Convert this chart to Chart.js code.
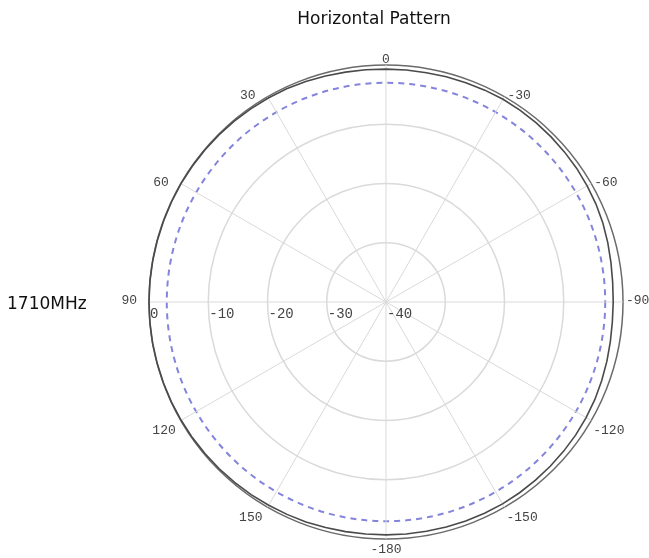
<!DOCTYPE html>
<html>
<head>
<meta charset="utf-8">
<script src="https://cdn.jsdelivr.net/npm/chart.js@4"></script>
<style>
  html, body { margin: 0; padding: 0; background: #fff; }
  #wrap { width: 649px; height: 558px; position: relative; }
</style>
</head>
<body>
<div id="wrap"><canvas id="c" width="649" height="558"></canvas></div>
<script>
// Azimuth angles (deg), clockwise from top as Chart.js radar draws them
const angleLabels = [
  0, -5, -10, -15, -20, -25, -30, -35, -40, -45, -50, -55,
  -60, -65, -70, -75, -80, -85, -90, -95, -100, -105, -110, -115,
  -120, -125, -130, -135, -140, -145, -150, -155, -160, -165, -170, -175,
  -180, 175, 170, 165, 160, 155, 150, 145, 140, 135, 130, 125,
  120, 115, 110, 105, 100, 95, 90, 85, 80, 75, 70, 65,
  60, 55, 50, 45, 40, 35, 30, 25, 20, 15, 10, 5
];
// Normalised gain (dB) at 1710 MHz
const gain1710 = [
  -0.7, -0.7, -0.7, -0.65, -0.6, -0.55, -0.5, -0.5, -0.55, -0.6, -0.65, -0.7,
  -0.8, -0.9, -1.05, -1.25, -1.45, -1.6, -1.65, -1.65, -1.55, -1.4, -1.25, -1.1,
  -1.0, -0.9, -0.85, -0.8, -0.75, -0.7, -0.65, -0.65, -0.65, -0.7, -0.7, -0.7,
  -0.7, -0.7, -0.65, -0.6, -0.5, -0.45, -0.4, -0.3, -0.25, -0.2, -0.15, -0.1,
  -0.08, -0.05, -0.03, -0.02, 0, 0, 0, 0, -0.02, -0.03, -0.05, -0.05,
  -0.05, -0.08, -0.1, -0.12, -0.15, -0.2, -0.25, -0.3, -0.4, -0.5, -0.6, -0.65
];
// Radial rings (dB); -3 is the half-power reference ring
const ringValues = [-40, -30, -20, -10, -3, 0];
const tickLabels = ['-40', '-30', '-20', '-10', '0'];
const tickLabelValues = [-40, -30, -20, -10, 0];
const shownAngles = [0, -30, -60, -90, -120, -150, -180, 150, 120, 90, 60, 30];
const halfPowerDb = -3;

const textPlugin = {
  id: 'patternText',
  afterDraw(chart) {
    const ctx = chart.ctx;
    const s = chart.scales.r;
    ctx.save();
    // title and frequency label
    ctx.fillStyle = '#111';
    ctx.font = '17px "DejaVu Sans"';
    ctx.textAlign = 'center';
    ctx.textBaseline = 'alphabetic';
    ctx.fillText('Horizontal Pattern', 374, 24);
    ctx.textAlign = 'left';
    ctx.fillText('1710MHz', 7, 309);

    ctx.fillStyle = '#444';
    ctx.font = '14px "Liberation Mono"';
    // radial tick labels along the 90 deg spoke
    const leftIdx = angleLabels.indexOf(90);
    ctx.textAlign = 'left';
    ctx.textBaseline = 'middle';
    tickLabelValues.forEach((v, k) => {
      const p = s.getPointPositionForValue(leftIdx, v);
      ctx.fillText(tickLabels[k], p.x + 1, s.yCenter + 12);
    });
    // angle labels
    ctx.font = '13px "Liberation Mono"';
    shownAngles.forEach(a => {
      const i = angleLabels.indexOf(a);
      const p = s.getPointPosition(i, s.drawingArea);
      const txt = String(a);
      if (a === 0) {
        ctx.textAlign = 'center'; ctx.textBaseline = 'bottom';
        ctx.fillText(txt, p.x, p.y + 1);
      } else if (a === -180) {
        ctx.textAlign = 'center'; ctx.textBaseline = 'top';
        ctx.fillText(txt, p.x, p.y + 4);
      } else if (a > 0) {
        ctx.textAlign = 'right'; ctx.textBaseline = 'middle';
        if (a <= 90) ctx.fillText(txt, p.x - 12, p.y - 1);
        else ctx.fillText(txt, p.x - 5, p.y + 10);
      } else {
        ctx.textAlign = 'left'; ctx.textBaseline = 'middle';
        if (a >= -90) ctx.fillText(txt, p.x + 3, p.y - 1);
        else ctx.fillText(txt, p.x + 2, p.y + 10);
      }
    });
    ctx.restore();
  }
};

new Chart(document.getElementById('c'), {
  type: 'radar',
  data: {
    labels: angleLabels,
    datasets: [{
      label: '1710MHz',
      data: gain1710,
      borderColor: '#4a4a4a',
      borderWidth: 1.6,
      fill: false,
      pointRadius: 0,
      pointHoverRadius: 0,
      tension: 0
    }]
  },
  options: {
    responsive: false,
    animation: false,
    devicePixelRatio: 1,
    layout: { padding: { top: 65, bottom: 19, left: 136, right: 13 } },
    plugins: {
      legend: { display: false },
      title: { display: false },
      tooltip: { enabled: false }
    },
    scales: {
      r: {
        min: -40,
        max: 0,
        afterBuildTicks(scale) {
          scale.ticks = ringValues.map(v => ({ value: v }));
        },
        ticks: { display: false },
        pointLabels: { display: false },
        angleLines: {
          display: true,
          color: ctx => (angleLabels[ctx.index] % 30 === 0 ? '#d9d9d9' : 'rgba(0,0,0,0)'),
          lineWidth: 1
        },
        grid: {
          circular: true,
          color: ctx => {
            const v = ctx.tick ? ctx.tick.value : null;
            if (v === halfPowerDb) return '#8484dc';
            if (v === 0) return '#6a6a6a';
            return '#dadada';
          },
          lineWidth: ctx => {
            const v = ctx.tick ? ctx.tick.value : null;
            if (v === halfPowerDb) return 2;
            return 1.5;
          }
        },
        border: {
          dash: ctx => (ctx.tick && ctx.tick.value === halfPowerDb ? [6, 5] : [])
        }
      }
    }
  },
  plugins: [textPlugin]
});
</script>
</body>
</html>
